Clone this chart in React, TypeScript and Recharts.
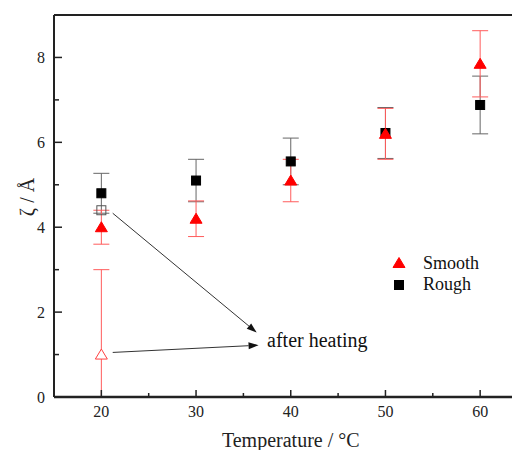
import { ErrorBar, Legend, ReferenceDot, ReferenceLine, Scatter, ScatterChart, XAxis, YAxis } from 'recharts'

const temps = [20, 30, 40, 50, 60]
const smooth = [4.0, 4.2, 5.1, 6.2, 7.85]
const smoothErr = [0.4, 0.42, 0.5, 0.6, 0.78]
const rough = [4.8, 5.1, 5.55, 6.22, 6.88]
const roughErr = [0.47, 0.5, 0.55, 0.6, 0.68]

// after heating, measured at 20 °C only (lower whisker cut at the axis)
const heatedSmooth = [{ x: 20, y: 1.0, err: [1.0, 2.0] }]
const heatedRough = [{ x: 20, y: 4.4 }]

const xTicks = [20, 25, 30, 35, 40, 45, 50, 55, 60]
const yTicks = [0, 1, 2, 3, 4, 5, 6, 7, 8]

const seriesNames = ['Smooth', 'Rough']

const smoothData = temps.map((x, i) => ({ x, y: smooth[i], err: smoothErr[i] }))
const roughData = temps.map((x, i) => ({ x, y: rough[i], err: roughErr[i] }))

const FONT = '"Liberation Serif", "Times New Roman", serif'
const AXIS = '#222'
const RED = '#ff0000'

const triangle = (cx: number, cy: number, fill: string, stroke: string) => (
  <polygon
    points={`${cx},${cy - 5.5} ${cx - 6},${cy + 4.5} ${cx + 6},${cy + 4.5}`}
    fill={fill}
    stroke={stroke}
    strokeWidth={1}
  />
)

const square = (cx: number, cy: number, fill: string, stroke: string) => (
  <rect x={cx - 4.5} y={cy - 4.5} width={9} height={9} fill={fill} stroke={stroke} strokeWidth={1} />
)

function XTick(props: any) {
  const { x, y, payload } = props
  const major = payload.value % 10 === 0
  return (
    <g>
      <line x1={x} y1={y} x2={x} y2={y - (major ? 7 : 4)} stroke={AXIS} strokeWidth={1.5} />
      {major && (
        <text x={x} y={y + 20} textAnchor="middle" fontFamily={FONT} fontSize={16} fill="#222">
          {payload.value}
        </text>
      )}
    </g>
  )
}

function YTick(props: any) {
  const { x, y, payload } = props
  const major = payload.value % 2 === 0
  return (
    <g>
      <line x1={x} y1={y} x2={x + (major ? 8 : 5)} y2={y} stroke={AXIS} strokeWidth={1.5} />
      {major && (
        <text x={x - 9} y={y + 5.5} textAnchor="end" fontFamily={FONT} fontSize={16} fill="#222">
          {payload.value}
        </text>
      )}
    </g>
  )
}

function Arrow(props: any) {
  const { x1, y1, x2, y2 } = props
  const a = Math.atan2(y2 - y1, x2 - x1)
  const len = 10
  const hw = 3.5
  const bx = x2 - len * Math.cos(a)
  const by = y2 - len * Math.sin(a)
  const px = -Math.sin(a) * hw
  const py = Math.cos(a) * hw
  return (
    <g>
      <line x1={x1} y1={y1} x2={bx} y2={by} stroke="#333" strokeWidth={1} />
      <polygon points={`${x2},${y2} ${bx + px},${by + py} ${bx - px},${by - py}`} fill="#111" />
    </g>
  )
}

function LegendBox() {
  return (
    <svg width={120} height={50}>
      {triangle(11, 15, RED, RED)}
      <text x={35} y={21} fontFamily={FONT} fontSize={18} fill="#111">{seriesNames[0]}</text>
      {square(11, 37, '#000', '#000')}
      <text x={35} y={42} fontFamily={FONT} fontSize={18} fill="#111">{seriesNames[1]}</text>
    </svg>
  )
}

export default function App() {
  return (
    <div style={{ width: 512, height: 442, overflow: 'hidden' }}>
      <ScatterChart width={530} height={442} margin={{ top: 7, right: 10.5, bottom: 0, left: 0 }}>
        <XAxis
          type="number"
          dataKey="x"
          domain={[15, 65]}
          ticks={xTicks}
          interval={0}
          allowDataOverflow
          tickSize={0}
          tickMargin={0}
          tickLine={false}
          tick={<XTick />}
          height={53}
          axisLine={{ stroke: AXIS, strokeWidth: 2 }}
          label={({ viewBox }: any) => (
            <text
              x={viewBox.x + viewBox.width / 2}
              y={viewBox.y + 50}
              textAnchor="middle"
              fontFamily={FONT}
              fontSize={20}
              fill="#222"
            >
              Temperature / °C
            </text>
          )}
        />
        <YAxis
          type="number"
          dataKey="y"
          domain={[0, 9]}
          ticks={yTicks}
          interval={0}
          allowDataOverflow
          tickSize={0}
          tickMargin={0}
          tickLine={false}
          tick={<YTick />}
          width={46}
          axisLine={{ stroke: AXIS, strokeWidth: 2 }}
          label={({ viewBox }: any) => {
            const cx = 26
            const cy = viewBox.y + viewBox.height / 2 - 9
            return (
              <text
                x={cx}
                y={cy}
                transform={`rotate(-90 ${cx} ${cy})`}
                textAnchor="middle"
                fontFamily={FONT}
                fontSize={20}
                fill="#222"
              >
                ζ / Å
              </text>
            )
          }}
        />
        <ReferenceLine y={9} stroke={AXIS} strokeWidth={2} />
        <Scatter
          name="Rough"
          data={roughData}
          isAnimationActive={false}
          shape={(p: any) => square(p.cx, p.cy, '#000', '#000')}
        >
          <ErrorBar dataKey="err" direction="y" width={8} stroke="#666" strokeWidth={1} />
        </Scatter>
        <Scatter
          name="Rough heated"
          data={heatedRough}
          isAnimationActive={false}
          shape={(p: any) => square(p.cx, p.cy, 'none', '#555')}
        />
        <Scatter
          name="Smooth"
          data={smoothData}
          isAnimationActive={false}
          shape={(p: any) => triangle(p.cx, p.cy, RED, RED)}
        >
          <ErrorBar dataKey="err" direction="y" width={8} stroke="#ff5c5c" strokeWidth={1} />
        </Scatter>
        <Scatter
          name="Smooth heated"
          data={heatedSmooth}
          isAnimationActive={false}
          shape={(p: any) => triangle(p.cx, p.cy, '#fff', '#ff4040')}
        >
          <ErrorBar dataKey="err" direction="y" width={8} stroke="#ff5c5c" strokeWidth={1} />
        </Scatter>
        <ReferenceLine y={0} stroke={AXIS} strokeWidth={2.5} />
        <ReferenceLine segment={[{ x: 21.2, y: 4.33 }, { x: 36.4, y: 1.52 }]} shape={<Arrow />} />
        <ReferenceLine segment={[{ x: 21.2, y: 1.05 }, { x: 36.6, y: 1.22 }]} shape={<Arrow />} />
        <ReferenceDot
          x={37.5}
          y={1.34}
          r={0}
          shape={(p: any) => (
            <text x={p.cx} y={p.cy + 7} fontFamily={FONT} fontSize={20} fill="#111">
              after heating
            </text>
          )}
        />
        <Legend
          layout="vertical"
          align="center"
          verticalAlign="middle"
          content={() => <LegendBox />}
          wrapperStyle={{ position: 'absolute', left: 380, top: 240, width: 120, height: 50 }}
        />
      </ScatterChart>
    </div>
  )
}
